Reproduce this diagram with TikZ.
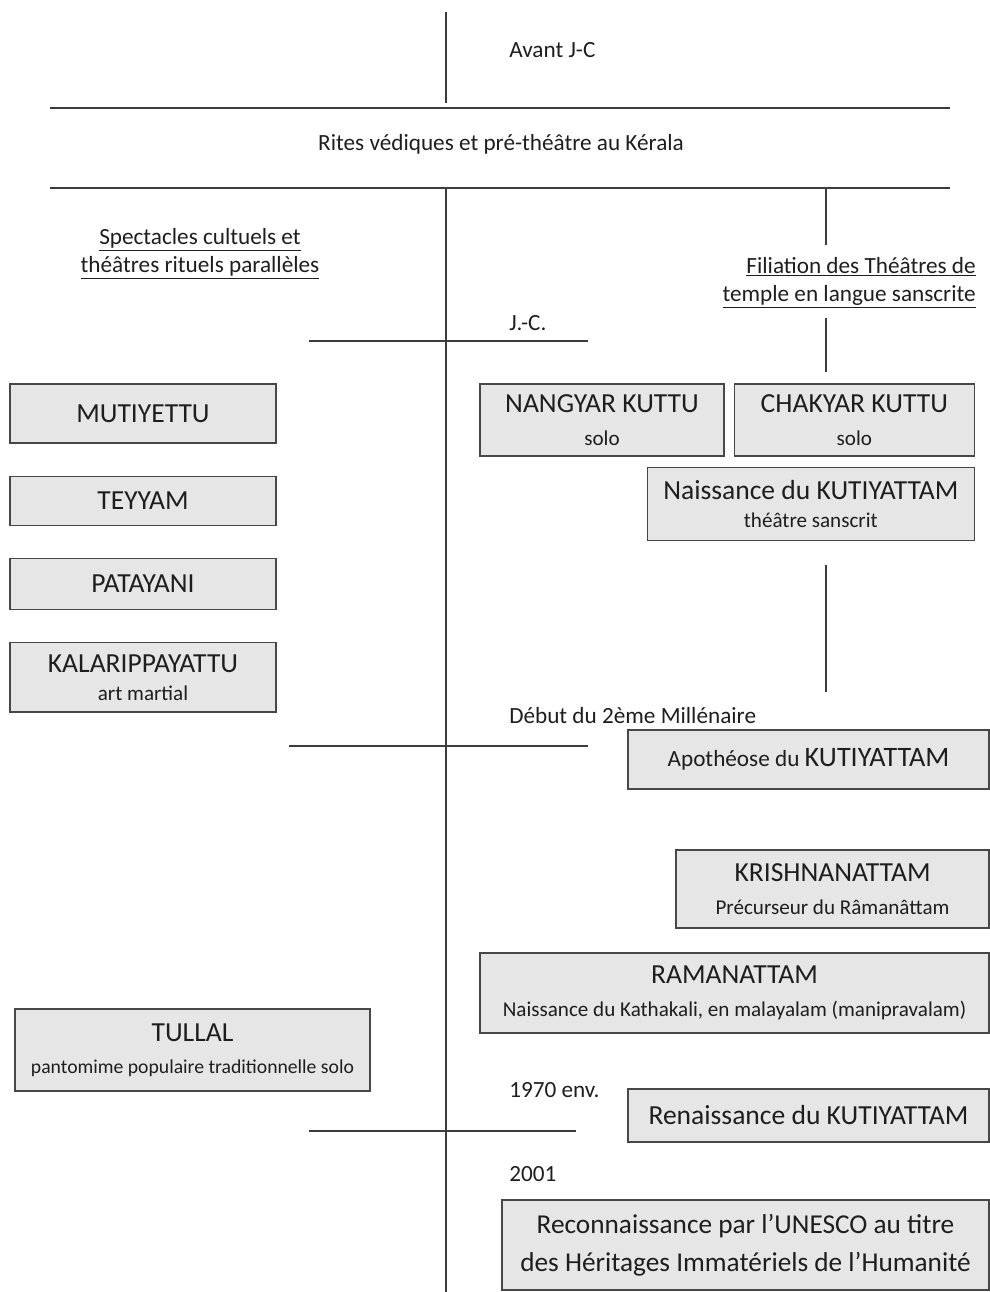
\documentclass[tikz,border=0pt]{standalone}
\usepackage{fontspec}
\setmainfont{Carlito}
\usetikzlibrary{positioning}
\definecolor{boxfill}{HTML}{E6E6E6}
\definecolor{boxline}{HTML}{474747}
\definecolor{rulecol}{HTML}{3C3C3C}
\definecolor{ink}{HTML}{1E1E1E}
\newcommand{\titlef}{\fontsize{19.6}{23}\selectfont}
\newcommand{\subf}{\fontsize{15}{17}\selectfont}
\newcommand{\labf}{\fontsize{16.5}{20}\selectfont}

\begin{document}
\begin{tikzpicture}[x=0.025cm, y=-0.025cm, node distance=0.8cm, text=ink]
        % Define block styles
        \tikzstyle{block} = [rectangle, draw=boxline, fill=boxfill, line width=0.9pt, align=center, inner sep=0pt, font=\subf]
        \tikzstyle{line} = [draw=rulecol, line width=0.9pt]
        \tikzstyle{period} = [inner sep=0pt, anchor=west, font=\labf]
        \tikzstyle{heading} = [inner sep=0pt, font=\labf]

        \useasboundingbox (0,0) rectangle (990,1292);

        % Timeline
        \coordinate (top) at (446,12);
        \coordinate (topend) at (446,103);
        \coordinate (ritesw) at (50,108);
        \coordinate (ritese) at (950,108);
        \coordinate (basew) at (50,188);
        \coordinate (basee) at (950,188);
        \coordinate (axis) at (446,188);
        \coordinate (bottom) at (446,1292);
        \path [line] (top) -- (topend);
        \path [line] (ritesw) -- (ritese);
        \path [line] (basew) -- (basee);
        \path [line] (axis) -- (bottom);

        % Text labels
        \node [period] (avant) at (509,50) {Avant J-C};
        \node [heading] (rites) at (501,144) {Rites védiques et pré-théâtre au Kérala};
        \node [heading, align=center] (cultuels) at (200,254) {\underline{Spectacles cultuels et}\\\underline{théâtres rituels parallèles}};
        \node [heading, align=right, anchor=east] (filiation) at (976,283) {\underline{Filiation des Théâtres de}\\\underline{temple en langue sanscrite}};
        \node [period] (jc) at (509,323) {J.-C.};
        \node [period] (debut) at (509,716) {Début du 2ème Millénaire};
        \node [period] (env) at (509,1090) {1970 env.};
        \node [period] (unesco) at (509,1174) {2001};

        % Period marks
        \coordinate (jcw) at (309,341);
        \coordinate (jce) at (588,341);
        \coordinate (milw) at (289,746);
        \coordinate (mile) at (588,746);
        \coordinate (renw) at (309,1131);
        \coordinate (rene) at (576,1131);
        \path [line] (jcw) -- (jce);
        \path [line] (milw) -- (mile);
        \path [line] (renw) -- (rene);

        % Left column
        \node [block, minimum width=6.65cm, minimum height=1.475cm] (mutiyettu) at (143,413.5) {\titlef MUTIYETTU};
        \node [block, minimum width=6.65cm, minimum height=1.225cm, below=of mutiyettu] (teyyam) {\titlef TEYYAM};
        \node [block, minimum width=6.65cm, minimum height=1.275cm, below=of teyyam] (patayani) {\titlef PATAYANI};
        \node [block, minimum width=6.65cm, minimum height=1.725cm, below=of patayani] (kalari) {{\titlef KALARIPPAYATTU}\\[3pt]art martial};
        \node [block, minimum width=8.875cm, minimum height=2.05cm, font=\fontsize{14}{17}\selectfont] (tullal) at (192.5,1050) {{\titlef TULLAL}\\[6pt]pantomime populaire traditionnelle solo};

        % Right column
        \node [block, minimum width=6.1cm, minimum height=1.8cm] (nangyar) at (602,420) {{\titlef NANGYAR KUTTU}\\[6pt]solo};
        \node [block, minimum width=6.0cm, minimum height=1.8cm, right=0.225cm of nangyar] (chakyar) {{\titlef CHAKYAR KUTTU}\\[6pt]solo};
        \node [block, minimum width=8.175cm, minimum height=1.825cm, anchor=north east] (naissance) at ([yshift=-0.25cm]chakyar.south east) {{\titlef Naissance du KUTIYATTAM}\\[3pt]théâtre sanscrit};
        \node [block, minimum width=9.025cm, minimum height=1.475cm, font=\labf] (apotheose) at (808.5,759.5) {Apothéose du {\fontsize{20}{23}\selectfont KUTIYATTAM}};
        \node [block, minimum width=7.825cm, minimum height=1.95cm] (krishna) at (832.5,889) {{\titlef KRISHNANATTAM}\\[6pt]Précurseur du Râmanâttam};
        \node [block, minimum width=12.725cm, minimum height=2.0cm] (rama) at (734.5,993) {{\titlef RAMANATTAM}\\[6pt]Naissance du Kathakali, en malayalam (manipravalam)};
        \node [block, minimum width=9.025cm, minimum height=1.325cm] (renaissance) at (808.5,1115.5) {\titlef Renaissance du KUTIYATTAM};
        \node [block, minimum width=12.175cm, minimum height=2.25cm, font=\fontsize{19.4}{27}\selectfont] (heritage) at (745.5,1245) {Reconnaissance par l’UNESCO au titre\\des Héritages Immatériels de l’Humanité};

        % Filiation line
        \coordinate (fil1) at (826,188);
        \coordinate (fil2) at (826,245);
        \coordinate (fil3) at (826,318);
        \coordinate (fil4) at (826,372);
        \coordinate (fil5) at (826,565);
        \coordinate (fil6) at (826,692);
        \path [line] (fil1) -- (fil2);
        \path [line] (fil3) -- (fil4);
        \path [line] (fil5) -- (fil6);

    \end{tikzpicture}
\end{document}
